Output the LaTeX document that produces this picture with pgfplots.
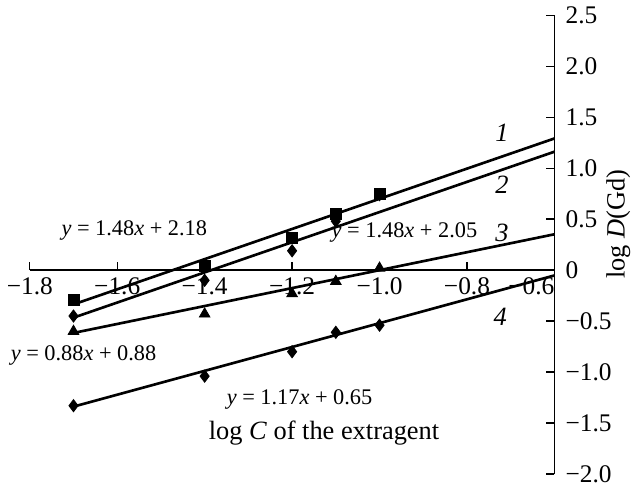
\documentclass[border=0pt]{standalone}
\usepackage{fontspec}
\setmainfont{Liberation Serif}
\usepackage{pgfplots}
\pgfplotsset{compat=1.18}
\begin{document}
\begin{tikzpicture}
\begin{axis}[
  scale only axis, width=258.5pt, height=226pt,
  xmin=-1.8, xmax=-0.6, ymin=-2, ymax=2.5,
  axis x line*=middle, axis y line*=right,
  hide obscured x ticks=false, hide obscured y ticks=false,
  axis line style={line width=0.7pt},
  xtick={-1.8,-1.6,-1.4,-1.2,-1.0,-0.8,-0.6},
  xticklabels={−1.8,−1.6,−1.4,−1.2,−1.0,−0.8,\makebox[0pt][r]{−0.6}},
  ytick={-2,-1.5,-1,-0.5,0,0.5,1,1.5,2,2.5},
  yticklabels={−2.0,−1.5,−1.0,−0.5,0,0.5,1.0,1.5,2.0,2.5},
  tick align=inside, major tick length=4pt,
  tick style={line width=0.7pt, black},
  ticklabel style={font=\fontsize{12.5}{14}\selectfont},
  yticklabel style={xshift=2pt},
  clip=false,
]
% data points
\addplot[only marks, mark=square*, mark size=2.7pt, black] coordinates {
(-1.7,-0.29) (-1.4,0.04) (-1.2,0.32) (-1.1,0.55) (-1.0,0.75)};
\addplot[only marks, mark=diamond*, mark size=3pt, black] coordinates {
(-1.7,-0.45) (-1.4,-0.10) (-1.2,0.19) (-1.1,0.48) (-1.0,0.74)};
\addplot[only marks, mark=triangle*, mark size=3pt, black] coordinates {
(-1.7,-0.60) (-1.4,-0.43) (-1.2,-0.23) (-1.1,-0.11) (-1.0,0.02)};
\addplot[only marks, mark=diamond*, mark size=3pt, black] coordinates {
(-1.7,-1.33) (-1.4,-1.04) (-1.2,-0.80) (-1.1,-0.61) (-1.0,-0.54)};
% fitted lines
\addplot[black, line width=1.3pt] coordinates {(-1.7,-0.336) (-0.6,1.292)};
\addplot[black, line width=1.3pt] coordinates {(-1.7,-0.466) (-0.6,1.162)};
\addplot[black, line width=1.3pt] coordinates {(-1.7,-0.616) (-0.6,0.352)};
\addplot[black, line width=1.3pt] coordinates {(-1.7,-1.339) (-0.6,-0.052)};
% curve numbers
\node[font=\fontsize{13}{15}\selectfont\itshape] at (axis cs:-0.72,1.35) {1};
\node[font=\fontsize{13}{15}\selectfont\itshape] at (axis cs:-0.72,0.84) {2};
\node[font=\fontsize{13}{15}\selectfont\itshape] at (axis cs:-0.72,0.37) {3};
\node[font=\fontsize{13}{15}\selectfont\itshape] at (axis cs:-0.724,-0.46) {4};
% equations
\node[font=\fontsize{11}{13}\selectfont] at (axis cs:-1.561,0.39) {\textit{y} = 1.48\textit{x} + 2.18};
\node[font=\fontsize{11}{13}\selectfont] at (axis cs:-0.943,0.37) {\textit{y} = 1.48\textit{x} + 2.05};
\node[font=\fontsize{11}{13}\selectfont] at (axis cs:-1.677,-0.84) {\textit{y} = 0.88\textit{x} + 0.88};
\node[font=\fontsize{11}{13}\selectfont] at (axis cs:-1.183,-1.27) {\textit{y} = 1.17\textit{x} + 0.65};
% axis labels
\node[font=\fontsize{13}{15}\selectfont] at (axis cs:-1.127,-1.60) {log \textit{C} of the extragent};
\node[font=\fontsize{13}{15}\selectfont, rotate=90] at (axis cs:-0.454,0.45) {log \textit{D}(Gd)};
\end{axis}
\end{tikzpicture}
\end{document}
